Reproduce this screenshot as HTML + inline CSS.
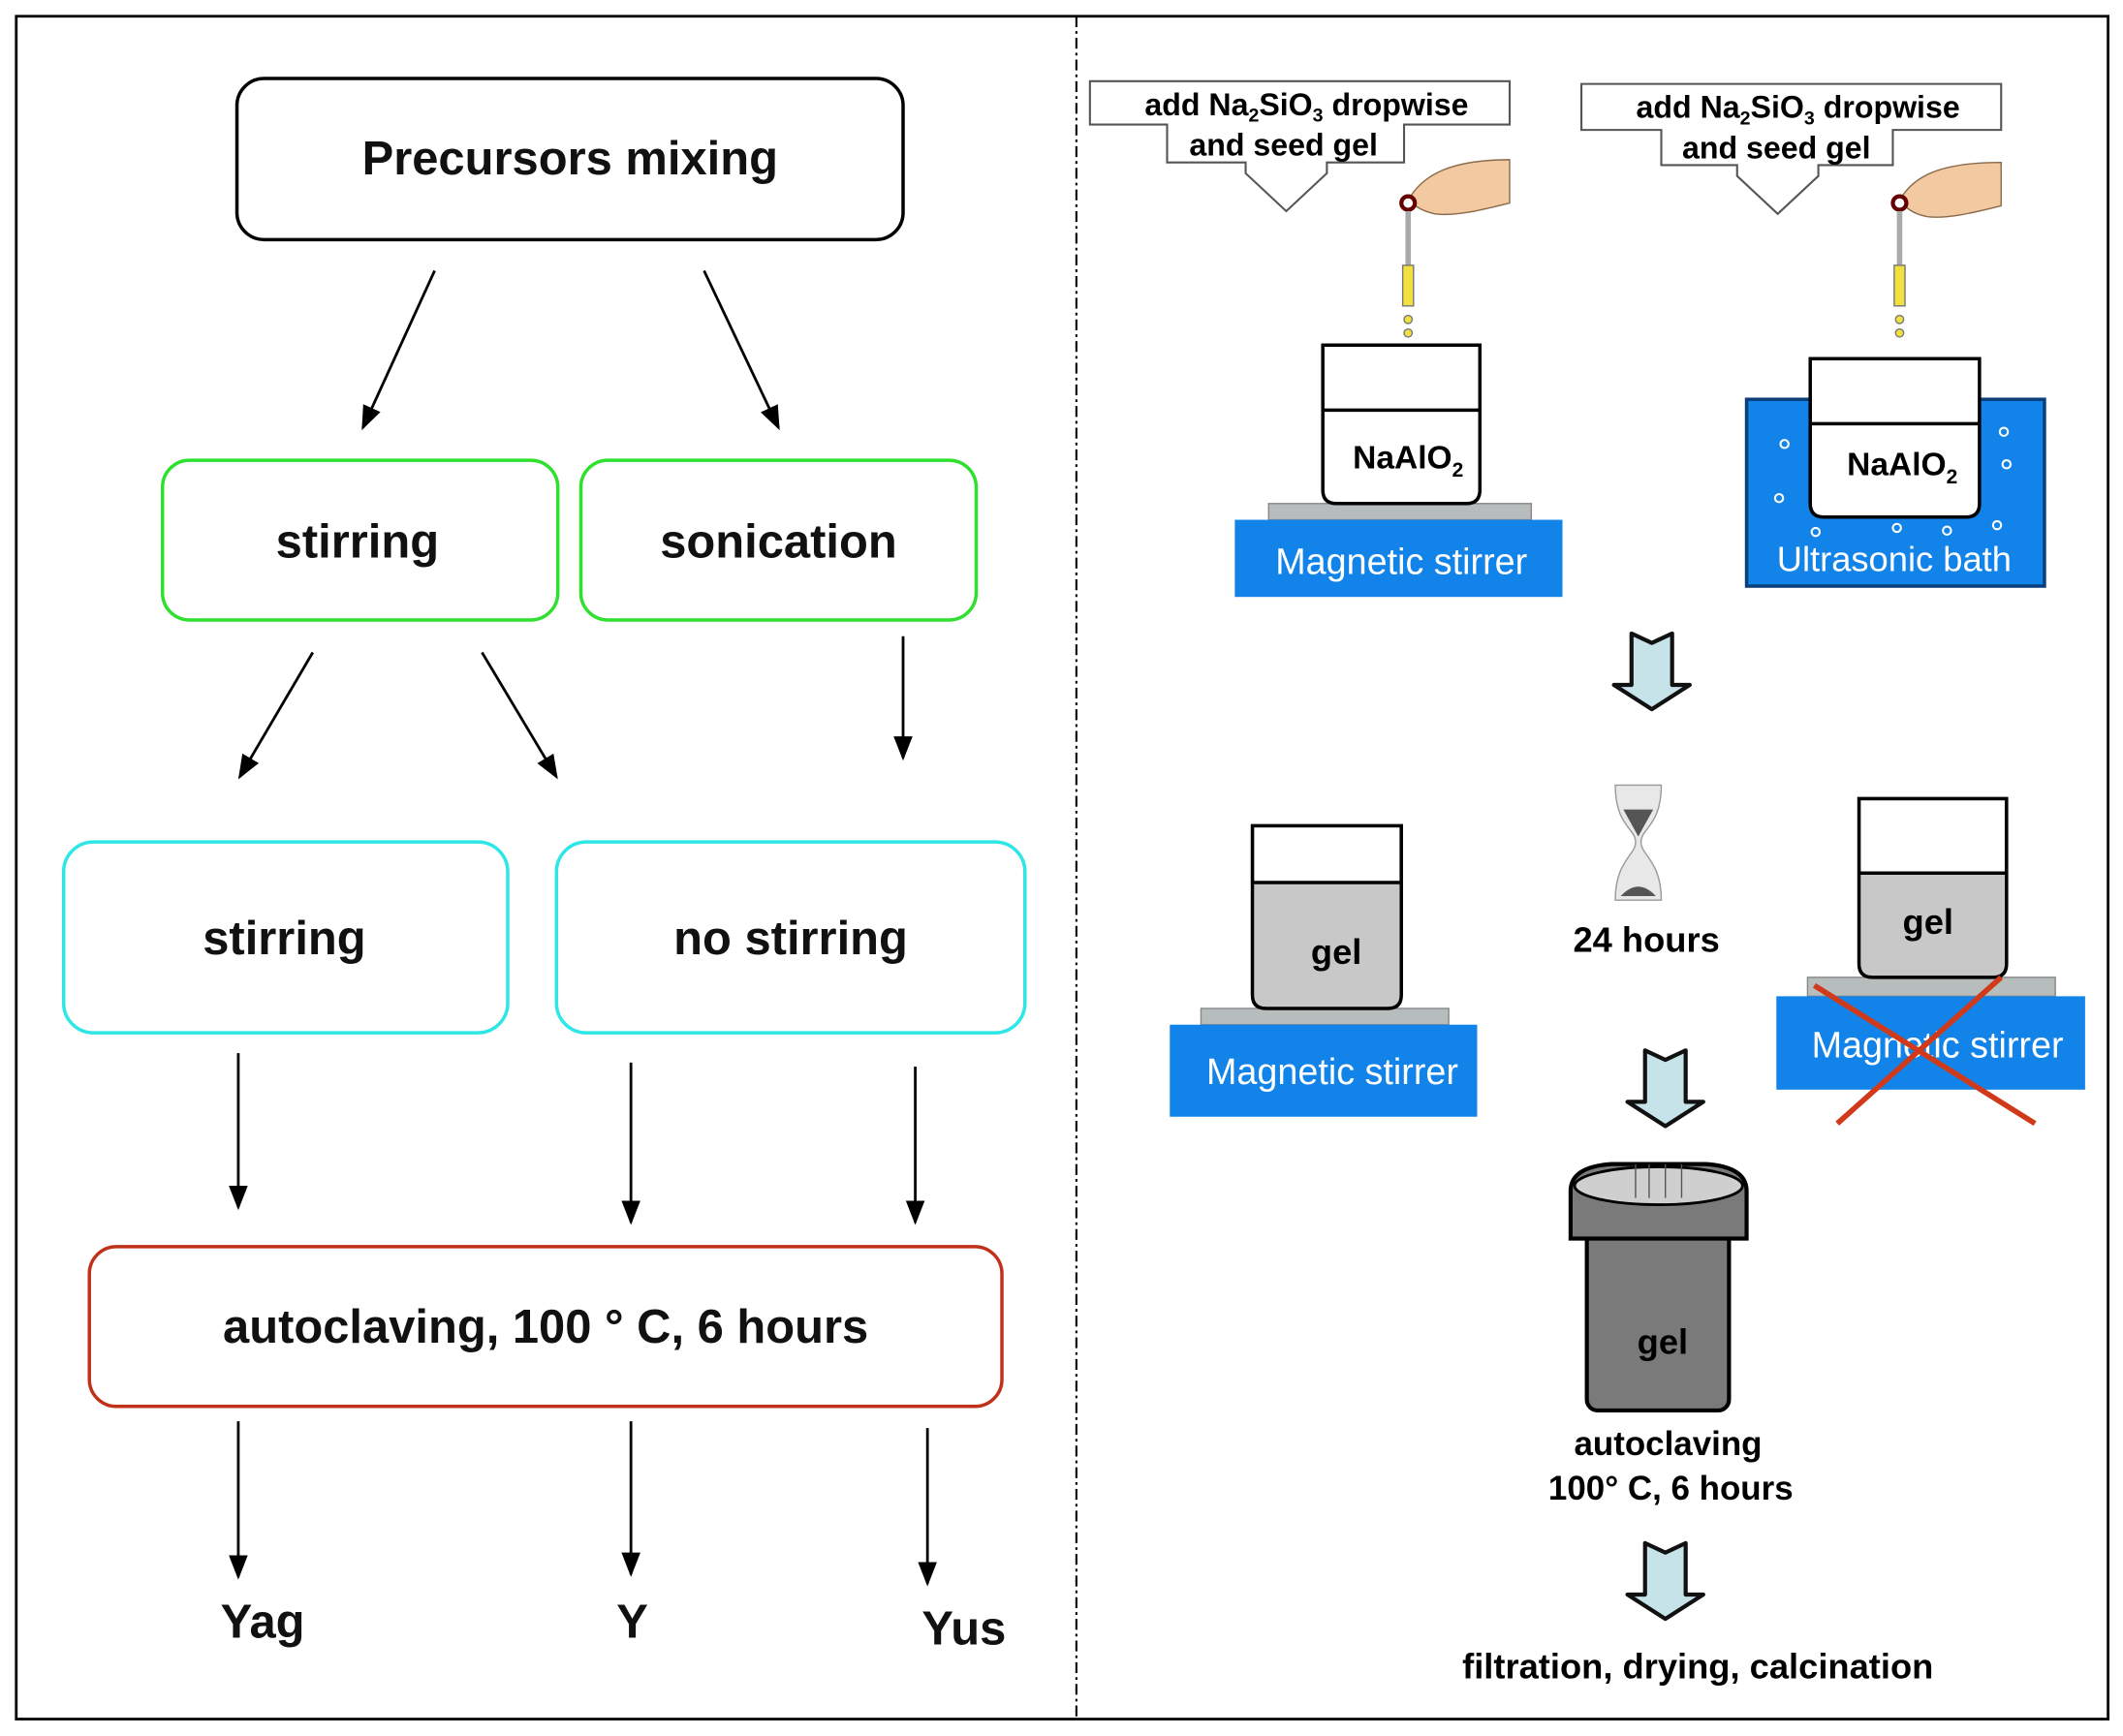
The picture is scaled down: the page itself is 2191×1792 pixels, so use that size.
<!DOCTYPE html>
<html><head><meta charset="utf-8"><style>html,body{margin:0;padding:0;background:#fff}svg{display:block}</style></head>
<body>
<svg width="2191" height="1792" viewBox="0 0 1568 1282.5" preserveAspectRatio="none" xmlns="http://www.w3.org/2000/svg" font-family="Liberation Sans, sans-serif">
<defs>
<marker id="ah2" markerWidth="18" markerHeight="18" refX="16" refY="9" orient="auto" markerUnits="userSpaceOnUse" viewBox="0 0 18 18"><path d="M0,2 L18,9 L0,16 Z" fill="#000"/></marker>
<g id="barrow"><path d="M-15,0 L0,7 L15,0 L15,38 L28,38 L0,56 L-28,38 L-15,38 Z" fill="#c5e3e8" stroke="#111" stroke-width="3" stroke-linejoin="round"/></g>
</defs>
<rect x="0" y="0" width="1568" height="1282.5" fill="#fff"/>
<rect x="12" y="12" width="1545" height="1258" fill="none" stroke="#000" stroke-width="2"/>
<line x1="795" y1="12" x2="795" y2="1270" stroke="#000" stroke-width="1.5" stroke-dasharray="8,3,2,3"/>

<g fill="none" stroke-width="2.5">
<rect x="175" y="58" width="492" height="119" rx="20" stroke="#000"/>
<rect x="120" y="340" width="292" height="118" rx="20" stroke="#2fe02f"/>
<rect x="429" y="340" width="292" height="118" rx="20" stroke="#2fe02f"/>
<rect x="47" y="622" width="328" height="141" rx="22" stroke="#2ee6e6"/>
<rect x="411" y="622" width="346" height="141" rx="22" stroke="#2ee6e6"/>
<rect x="66" y="921" width="674" height="118" rx="20" stroke="#c0311a"/>
</g>
<g font-size="35" font-weight="bold" text-anchor="middle" fill="#111">
<text x="421" y="129">Precursors mixing</text>
<text x="264" y="412">stirring</text>
<text x="575" y="412">sonication</text>
<text x="210" y="705">stirring</text>
<text x="584" y="705">no stirring</text>
<text x="403" y="992">autoclaving, 100 ° C, 6 hours</text>
<text x="194" y="1210">Yag</text>
<text x="467" y="1210">Y</text>
<text x="712" y="1215">Yus</text>
</g>
<g stroke="#000" stroke-width="2" marker-end="url(#ah2)">
<line x1="321" y1="200" x2="268" y2="316"/>
<line x1="520" y1="200" x2="575" y2="316"/>
<line x1="231" y1="482" x2="177" y2="574"/>
<line x1="356" y1="482" x2="411" y2="574"/>
<line x1="667" y1="470" x2="667" y2="560"/>
<line x1="176" y1="778" x2="176" y2="892"/>
<line x1="466" y1="785" x2="466" y2="903"/>
<line x1="676" y1="788" x2="676" y2="903"/>
<line x1="176" y1="1050" x2="176" y2="1165"/>
<line x1="466" y1="1050" x2="466" y2="1163"/>
<line x1="685" y1="1055" x2="685" y2="1170"/>
</g>

<!-- callouts -->
<g fill="#fff" stroke="#555" stroke-width="1.5">
<path d="M805,60 H1115 V92 H1037 V120 H980 V128 H980 L950,156 L920,128 H920 V120 H862 V92 H805 Z"/>
<path d="M1168,62 H1478 V96 H1398 V122 H1343 V130 L1313,158 L1283,130 V122 H1227 V96 H1168 Z"/>
</g>
<g font-size="23" font-weight="bold" text-anchor="middle" fill="#000" font-family="Liberation Sans Narrow, Liberation Sans, sans-serif">
<text x="965" y="85">add Na<tspan font-size="14" dy="5">2</tspan><tspan dy="-5">SiO</tspan><tspan font-size="14" dy="5">3</tspan><tspan dy="-5"> dropwise</tspan></text>
<text x="948" y="115">and seed gel</text>
<text x="1328" y="87">add Na<tspan font-size="14" dy="5">2</tspan><tspan dy="-5">SiO</tspan><tspan font-size="14" dy="5">3</tspan><tspan dy="-5"> dropwise</tspan></text>
<text x="1312" y="117">and seed gel</text>
</g>
<g>
<path d="M1040,148 C1050,130 1070,118 1115,118 L1115,150 C1095,155 1075,160 1060,158 C1050,156 1045,152 1040,148 Z" fill="#f2c9a0" stroke="#8a6a4a" stroke-width="1"/>
<circle cx="1040" cy="150" r="5" fill="#fff" stroke="#600" stroke-width="3"/>
<rect x="1038" y="156" width="4" height="40" fill="#aaa"/>
<rect x="1036" y="196" width="8" height="30" fill="#f0e040" stroke="#777" stroke-width="1"/>
<circle cx="1040" cy="236" r="3" fill="#f0e040" stroke="#777"/><circle cx="1040" cy="246" r="3" fill="#f0e040" stroke="#777"/>
<path d="M1403,148 C1413,130 1433,120 1478,120 L1478,152 C1458,157 1438,162 1423,160 C1413,158 1408,154 1403,148 Z" fill="#f2c9a0" stroke="#8a6a4a" stroke-width="1"/>
<circle cx="1403" cy="150" r="5" fill="#fff" stroke="#600" stroke-width="3"/>
<rect x="1401" y="156" width="4" height="40" fill="#aaa"/>
<rect x="1399" y="196" width="8" height="30" fill="#f0e040" stroke="#777" stroke-width="1"/>
<circle cx="1403" cy="236" r="3" fill="#f0e040" stroke="#777"/><circle cx="1403" cy="246" r="3" fill="#f0e040" stroke="#777"/>
</g>
<rect x="937" y="372" width="194" height="12" fill="#b7bcbc" stroke="#888"/>
<rect x="912" y="384" width="242" height="57" fill="#1283e8"/>
<path d="M977,255 H1093 V362 Q1093,372 1083,372 H987 Q977,372 977,362 Z" fill="#fff" stroke="#000" stroke-width="2.5"/>
<line x1="977" y1="303" x2="1093" y2="303" stroke="#000" stroke-width="2.5"/>
<text x="1040" y="346" font-size="24" font-weight="bold" text-anchor="middle" font-family="Liberation Sans Narrow, Liberation Sans, sans-serif">NaAlO<tspan font-size="15" dy="6">2</tspan></text>
<text x="1035" y="424" font-size="27" fill="#fff" text-anchor="middle">Magnetic stirrer</text>
<rect x="1290" y="295" width="220" height="138" fill="#1283e8" stroke="#0a3f7a" stroke-width="2.5"/>
<path d="M1337,265 H1462 V372 Q1462,382 1452,382 H1347 Q1337,382 1337,372 Z" fill="#fff" stroke="#000" stroke-width="2.5"/>
<line x1="1337" y1="313" x2="1462" y2="313" stroke="#000" stroke-width="2.5"/>
<text x="1405" y="351" font-size="24" font-weight="bold" text-anchor="middle" font-family="Liberation Sans Narrow, Liberation Sans, sans-serif">NaAlO<tspan font-size="15" dy="6">2</tspan></text>
<g fill="none" stroke="#fff" stroke-width="1.5">
<circle cx="1318" cy="328" r="3"/><circle cx="1314" cy="368" r="3"/><circle cx="1341" cy="393" r="3"/><circle cx="1401" cy="390" r="3"/><circle cx="1438" cy="392" r="3"/><circle cx="1475" cy="388" r="3"/><circle cx="1480" cy="319" r="3"/><circle cx="1482" cy="343" r="3"/>
</g>
<text x="1399" y="422" font-size="26" fill="#fff" text-anchor="middle">Ultrasonic bath</text>

<use href="#barrow" x="1220" y="468"/>
<rect x="887" y="745" width="183" height="12" fill="#b7bcbc" stroke="#888"/>
<rect x="864" y="757" width="227" height="68" fill="#1283e8"/>
<path d="M925,610 H1035 V735 Q1035,745 1025,745 H935 Q925,745 925,735 Z" fill="#c8c8c8" stroke="#000" stroke-width="2.5"/>
<rect x="926.5" y="611.5" width="107" height="40" fill="#fff"/>
<line x1="925" y1="652" x2="1035" y2="652" stroke="#000" stroke-width="2.5"/>
<text x="987" y="712" font-size="26" font-weight="bold" text-anchor="middle">gel</text>
<text x="984" y="801" font-size="27" fill="#fff" text-anchor="middle">Magnetic stirrer</text>
<path d="M1193,580 H1227 C1227,610 1212,612 1212,622 C1212,632 1227,636 1227,665 H1193 C1193,636 1208,632 1208,622 C1208,612 1193,610 1193,580 Z" fill="#e8e8e8" stroke="#999"/>
<path d="M1199,598 H1221 L1210,618 Z" fill="#555"/>
<path d="M1197,662 Q1210,648 1223,662 Z" fill="#555"/>
<text x="1216" y="703" font-size="26" font-weight="bold" text-anchor="middle">24 hours</text>
<rect x="1335" y="722" width="183" height="14" fill="#b7bcbc" stroke="#888"/>
<rect x="1312" y="736" width="228" height="69" fill="#1283e8"/>
<path d="M1373,590 H1482 V712 Q1482,722 1472,722 H1383 Q1373,722 1373,712 Z" fill="#c8c8c8" stroke="#000" stroke-width="2.5"/>
<rect x="1374.5" y="591.5" width="106" height="53" fill="#fff"/>
<line x1="1373" y1="645" x2="1482" y2="645" stroke="#000" stroke-width="2.5"/>
<text x="1424" y="690" font-size="26" font-weight="bold" text-anchor="middle">gel</text>
<text x="1431" y="781" font-size="27" fill="#fff" text-anchor="middle">Magnetic stirrer</text>
<line x1="1340" y1="728" x2="1503" y2="830" stroke="#d03a1a" stroke-width="4"/>
<line x1="1357" y1="830" x2="1478" y2="722" stroke="#d03a1a" stroke-width="4"/>

<use href="#barrow" x="1230" y="776"/>
<rect x="1172" y="905" width="105" height="137" rx="8" fill="#7a7a7a" stroke="#000" stroke-width="3"/>
<path d="M1160,880 Q1160,862 1190,860 H1260 Q1290,862 1290,880 V915 H1160 Z" fill="#7a7a7a" stroke="#000" stroke-width="3"/>
<ellipse cx="1225" cy="876" rx="62" ry="14" fill="#cfcfcf" stroke="#000" stroke-width="2"/>
<g stroke="#555" stroke-width="1"><line x1="1208" y1="860" x2="1208" y2="885"/><line x1="1218" y1="860" x2="1218" y2="885"/><line x1="1230" y1="860" x2="1230" y2="885"/><line x1="1242" y1="860" x2="1242" y2="885"/></g>
<text x="1228" y="1000" font-size="26" font-weight="bold" text-anchor="middle">gel</text>
<text x="1232" y="1075" font-size="25" font-weight="bold" text-anchor="middle">autoclaving</text>
<text x="1234" y="1108" font-size="25" font-weight="bold" text-anchor="middle">100° C, 6 hours</text>
<use href="#barrow" x="1230" y="1140"/>
<text x="1254" y="1240" font-size="26" font-weight="bold" text-anchor="middle">filtration, drying, calcination</text>
</svg>
</body></html>
